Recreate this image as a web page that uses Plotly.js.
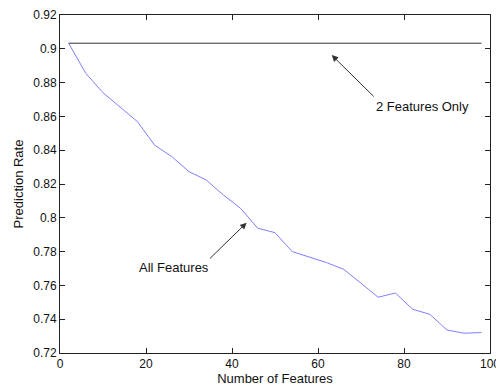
<!DOCTYPE html>
<html>
<head>
<meta charset="utf-8">
<script src="https://cdn.plot.ly/plotly-3.0.1.min.js"></script>
<style>html,body{margin:0;padding:0;background:#fff;}#chart{width:496px;height:390px;}</style>
</head>
<body>
<div id="chart"></div>
<script>
const numFeatures = [2,6,10,14,18,22,26,30,34,38,42,46,50,54,58,62,66,70,74,78,82,86,90,94,98];
const allFeaturesRate = [0.9033,0.8855,0.874,0.8657,0.8569,0.843,0.8362,0.8273,0.8224,0.8135,0.8056,0.7938,0.7912,0.780,0.7766,0.7735,0.7695,0.7613,0.753,0.7555,0.7459,0.7429,0.7336,0.7317,0.7321];
const twoFeaturesX = [2,98];
const twoFeaturesRate = [0.9033,0.9033];
const xTicks = [0,20,40,60,80,100];
const yTicks = [0.72,0.74,0.76,0.78,0.8,0.82,0.84,0.86,0.88,0.9,0.92];
const yTickText = ['0.72','0.74','0.76','0.78','0.8','0.82','0.84','0.86','0.88','0.9','0.92'];

const tickFont = {family: 'Liberation Sans, Arial, sans-serif', size: 12, color: '#111'};
const textFont = {family: 'Liberation Sans, Arial, sans-serif', size: 13, color: '#111'};

const traces = [
  {x: twoFeaturesX, y: twoFeaturesRate, mode: 'lines', line: {color: '#333333', width: 1}, hoverinfo: 'skip'},
  {x: numFeatures, y: allFeaturesRate, mode: 'lines', line: {color: '#7f7fff', width: 1}, hoverinfo: 'skip'}
];

const axisCommon = {
  showgrid: false, zeroline: false, showline: true, linecolor: '#222', linewidth: 1,
  mirror: 'allticks', ticks: 'inside', ticklen: 5, tickcolor: '#222', tickwidth: 1,
  tickfont: tickFont, ticklabeloverflow: 'allow', automargin: false
};

const layout = {
  width: 496, height: 390,
  margin: {l: 60, r: 6, t: 15, b: 37},
  paper_bgcolor: '#fff', plot_bgcolor: '#fff',
  showlegend: false,
  font: tickFont,
  xaxis: Object.assign({}, axisCommon, {
    range: [0, 100], tickvals: xTicks, ticktext: xTicks.map(String),
    title: {text: 'Number of Features', font: textFont, standoff: 2}
  }),
  yaxis: Object.assign({}, axisCommon, {
    range: [0.72, 0.92], tickvals: yTicks, ticktext: yTickText,
    title: {text: 'Prediction Rate', font: textFont, standoff: 6}
  }),
  annotations: [
    {xref: 'x', yref: 'y', x: 63.2, y: 0.8963, axref: 'x', ayref: 'y', ax: 73.3, ay: 0.8709,
     text: '', showarrow: true, arrowhead: 2, arrowsize: 1.3, arrowwidth: 1, arrowcolor: '#333'},
    {xref: 'x', yref: 'y', x: 84.2, y: 0.8656, text: '2 Features Only', showarrow: false, font: textFont},
    {xref: 'x', yref: 'y', x: 43.4, y: 0.7971, axref: 'x', ayref: 'y', ax: 34.5, ay: 0.775,
     text: '', showarrow: true, arrowhead: 2, arrowsize: 1.3, arrowwidth: 1, arrowcolor: '#333'},
    {xref: 'x', yref: 'y', x: 26.4, y: 0.7703, text: 'All Features', showarrow: false, font: textFont}
  ]
};

Plotly.newPlot('chart', traces, layout, {staticPlot: true, displayModeBar: false});
</script>
</body>
</html>
